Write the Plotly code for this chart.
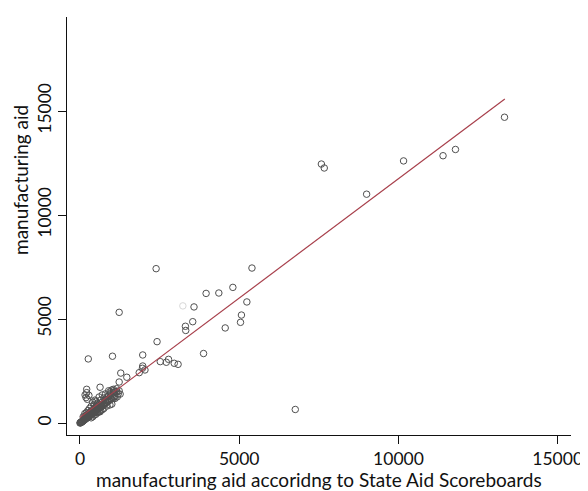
import plotly.graph_objects as go

# scattered points (x = scoreboard aid, y = manufacturing aid)
pts_x = [13330, 11790, 11400, 10160, 9000, 7580, 7670, 6760, 5400, 5240, 5070, 5040,
         4800, 4560, 4360, 3960, 3880, 3580, 3540, 3320, 3310, 2420, 2390, 1230,
         2520, 2710, 2780, 2960, 3080, 1970, 1020, 260, 1970, 1960, 2040, 1860,
         1280, 1470, 1230, 630, 210, 210, 190, 280, 160, 230, 1000, 1050, 940,
         1150, 1230, 1260, 1170, 1100, 1000, 630, 470, 940]
pts_y = [14700, 13150, 12850, 12600, 11000, 12450, 12260, 650, 7450, 5820, 5190, 4840,
         6520, 4570, 6250, 6230, 3340, 5580, 4870, 4450, 4650, 3910, 7420, 5320,
         2950, 2920, 3060, 2870, 2820, 3270, 3210, 3080, 2740, 2630, 2550, 2420,
         2400, 2200, 1970, 1720, 1620, 1460, 1220, 1330, 1350, 1140, 1590, 1620, 1500,
         1500, 1550, 1390, 1260, 1180, 910, 540, 1100, 870]

# dense cluster near the origin
cl_x = [0, 10, 20, 30, 40, 50, 60, 70, 80, 90, 100, 110, 120, 130, 140, 150, 160, 170,
        180, 190, 200, 210, 220, 230, 240, 250, 260, 270, 280, 290, 300, 310, 320, 330,
        340, 350, 360, 380, 390, 400, 420, 430, 450, 460, 480, 500, 510, 530, 550, 570,
        590, 600, 620, 640, 660, 680, 700, 720, 740, 760, 780, 800, 830, 850, 880, 900,
        930, 960, 990, 1020, 1060, 1100, 300, 350, 400, 450, 500, 550, 250, 200, 150,
        350, 450, 550, 650, 750, 850, 700, 800, 600, 900, 950, 850, 1050, 400, 500,
        600, 700, 150, 250, 350, 450, 300, 400, 500, 550, 650, 750, 600, 700, 800, 1100,
        1200, 1150, 1050, 900, 100, 200]
cl_y = [0, 20, 10, 40, 30, 60, 50, 90, 70, 110, 100, 140, 130, 160, 150, 200, 180, 210,
        230, 200, 250, 280, 240, 300, 270, 330, 300, 350, 310, 380, 340, 400, 360, 420,
        390, 450, 410, 470, 430, 500, 480, 540, 520, 580, 550, 620, 590, 660, 640, 700,
        680, 760, 720, 800, 770, 850, 820, 900, 860, 950, 920, 1000, 980, 1060, 1030, 1120,
        1090, 1180, 1150, 1230, 1200, 1300, 480, 560, 650, 700, 780, 850, 420, 380, 300,
        250, 380, 500, 600, 700, 820, 1000, 1100, 900, 1300, 1400, 1250, 1450, 300, 420,
        540, 640, 450, 600, 800, 900, 700, 1000, 1050, 950, 1100, 1200, 1250, 1350, 1400, 1500,
        1400, 1650, 1550, 1550, 300, 500]

# faint (light grey) point
faint_x = [3230]
faint_y = [5630]

# fitted line end points
fit_x = [0, 13340]
fit_y = [270, 15580]

x_ticks = [0, 5000, 10000, 15000]
y_ticks = [0, 5000, 10000, 15000]

FONT = "Lato"
TXT = "#111111"
marker = dict(symbol="circle-open", size=6.5, color="#505050", line=dict(width=1, color="#505050"))

fig = go.Figure()
fig.add_trace(go.Scatter(x=cl_x, y=cl_y, mode="markers", marker=marker, showlegend=False))
fig.add_trace(go.Scatter(x=pts_x, y=pts_y, mode="markers", marker=marker, showlegend=False))
fig.add_trace(go.Scatter(x=faint_x, y=faint_y, mode="markers",
                         marker=dict(symbol="circle-open", size=6.5, color="#d8d8d8",
                                     line=dict(width=1, color="#d8d8d8")), showlegend=False))
fig.add_trace(go.Scatter(x=fit_x, y=fit_y, mode="lines",
                         line=dict(color="#a8404c", width=1.2), showlegend=False))

# the page body adds an 8px offset, so the figure is 8px smaller and margins shifted
fig.update_layout(
    width=580, height=483,
    margin=dict(l=59, r=17, t=9, b=56, autoexpand=False),
    paper_bgcolor="white", plot_bgcolor="white",
    font=dict(family=FONT, size=17.5, color=TXT),
    xaxis=dict(range=[-408, 15418], tickvals=x_ticks, ticktext=[str(v) for v in x_ticks],
               automargin=False,
               showgrid=False, zeroline=False, showline=True, linecolor=TXT, linewidth=1,
               ticks="outside", ticklen=8, tickcolor=TXT, tickwidth=1),
    yaxis=dict(range=[-577, 19519], tickvals=y_ticks, ticktext=[str(v) for v in y_ticks],
               tickangle=-90, automargin=False,
               showgrid=False, zeroline=False, showline=True, linecolor=TXT, linewidth=1,
               ticks="outside", ticklen=8, tickcolor=TXT, tickwidth=1),
    annotations=[
        dict(text="manufacturing aid accoridng to State Aid Scoreboards", xref="paper", yref="paper",
             x=0.5, y=-(479.5 - 435) / 418, xanchor="center", yanchor="middle", showarrow=False,
             font=dict(family=FONT, size=19, color=TXT)),
        dict(text="manufacturing aid", xref="paper", yref="paper",
             x=-(67 - 20) / 504, y=(435 - 180) / 418, xanchor="center", yanchor="middle",
             textangle=-90, showarrow=False,
             font=dict(family=FONT, size=19, color=TXT)),
    ],
)

fig.write_html("out.html")
